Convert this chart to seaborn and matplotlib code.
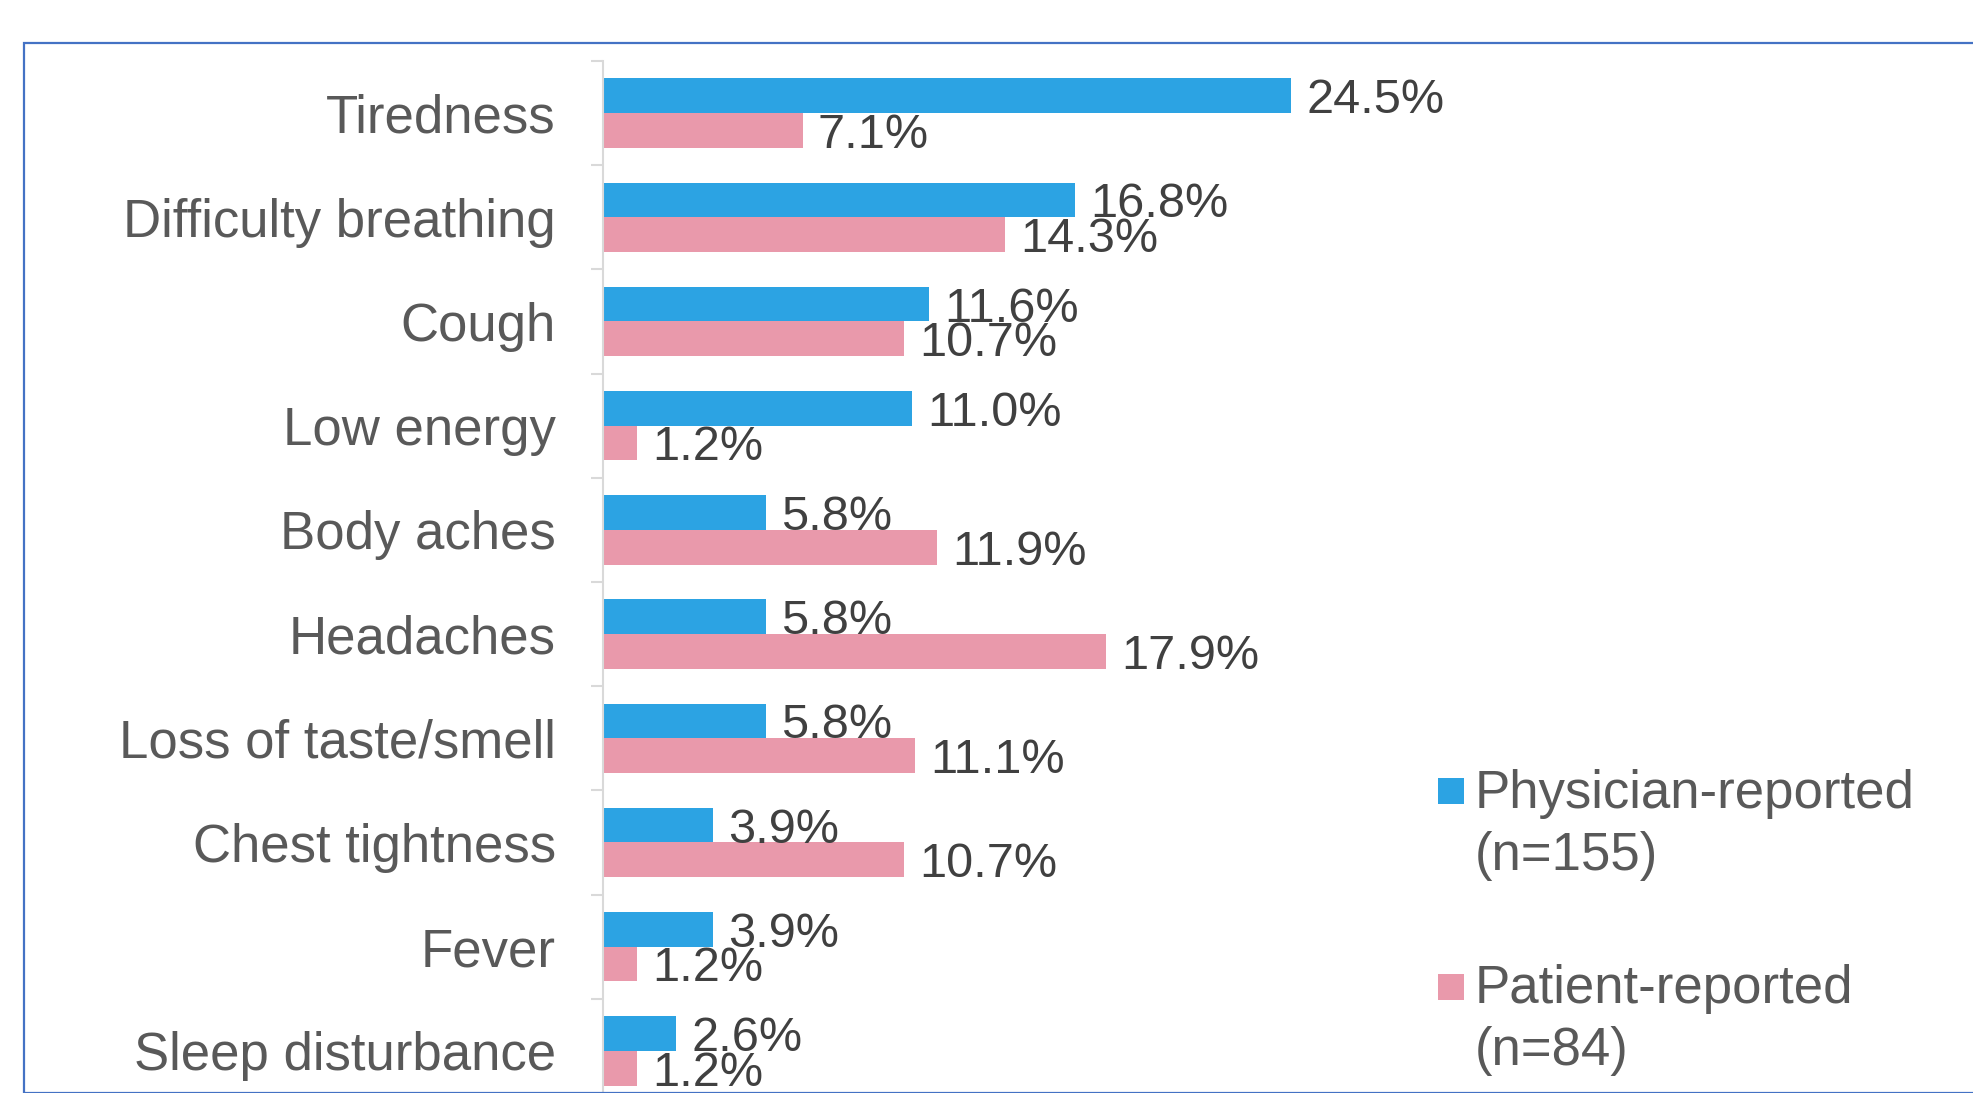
import pandas as pd
import seaborn as sns
import matplotlib.pyplot as plt
from matplotlib.patches import Rectangle

# Data
symptoms = ['Tiredness', 'Difficulty breathing', 'Cough', 'Low energy', 'Body aches',
            'Headaches', 'Loss of taste/smell', 'Chest tightness', 'Fever', 'Sleep disturbance']
physician = [24.5, 16.8, 11.6, 11.0, 5.8, 5.8, 5.8, 3.9, 3.9, 2.6]
patient = [7.1, 14.3, 10.7, 1.2, 11.9, 17.9, 11.1, 10.7, 1.2, 1.2]
series = ['Physician-reported', 'Patient-reported']
series_n = ['(n=155)', '(n=84)']
colors = ['#2ca3e3', '#e999ab']

df = pd.DataFrame({'symptom': symptoms * 2,
                   'pct': physician + patient,
                   'group': [series[0]] * len(symptoms) + [series[1]] * len(symptoms)})

sns.set_style('white')
plt.rcParams['font.family'] = ['Liberation Sans', 'DejaVu Sans']

W, H = 1974, 1093
fig = plt.figure(figsize=(W / 100, H / 100), dpi=100)

# outer blue frame (runs off the right and bottom edges)
fig.patches.append(Rectangle((24 / W, 0), 2, 1 - 43 / H, transform=fig.transFigure,
                             fill=False, edgecolor='#4472c4', linewidth=1.6))

# axes placement in pixels
x0, x1 = 603, 1400
top, step = 61, 104.2
bottom = top + step * len(symptoms)
ax = fig.add_axes([x0 / W, 1 - bottom / H, (x1 - x0) / W, (bottom - top) / H])

sns.barplot(data=df, x='pct', y='symptom', hue='group', orient='h', ax=ax,
            palette=colors, saturation=1, width=0.665, gap=0, linewidth=0, legend=False)

ax.set_xlim(0, (x1 - x0) / 28.1)
ax.set_ylim(len(symptoms) - 0.5, -0.5)

for cont in ax.containers:
    labels = ax.bar_label(cont, fmt='%.1f%%', padding=11, fontsize=35, color='#404040')
    for t in labels:
        t.xyann = (11, -3.5)

# axis styling
for s in ['top', 'right', 'bottom']:
    ax.spines[s].set_visible(False)
ax.spines['left'].set_color('#d9d9d9')
ax.spines['left'].set_linewidth(1.5)
ax.set_xticks([])
ax.set_xlabel('')
ax.set_ylabel('')
ax.set_yticks(range(len(symptoms)))
ax.set_yticklabels(symptoms)
ax.set_yticks([i - 0.5 for i in range(len(symptoms) + 1)], minor=True)
ax.tick_params(axis='y', which='major', length=0, pad=34, labelsize=38, labelcolor='#595959')
ax.tick_params(axis='y', which='minor', length=9, width=1.5, color='#d9d9d9', left=True)

# legend, drawn by hand so the square lines up with the first text line
leg_rows = [(778, 808, 870), (974, 1003, 1065)]
for i, (sq_top, base1, base2) in enumerate(leg_rows):
    fig.patches.append(Rectangle((1438 / W, 1 - (sq_top + 26) / H), 26 / W, 26 / H,
                                 transform=fig.transFigure, facecolor=colors[i], edgecolor='none'))
    fig.text(1475 / W, 1 - base1 / H, series[i], fontsize=38, color='#595959', va='baseline')
    fig.text(1475 / W, 1 - base2 / H, series_n[i], fontsize=38, color='#595959', va='baseline')

fig.savefig('out.png', dpi=100)
